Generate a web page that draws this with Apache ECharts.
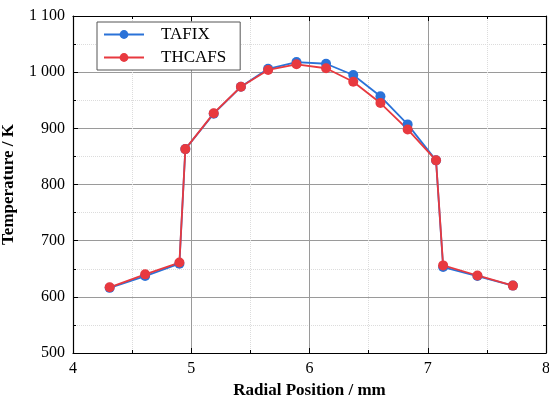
<!DOCTYPE html>
<html>
<head>
<meta charset="utf-8">
<script src="https://cdn.jsdelivr.net/npm/echarts@6/dist/echarts.min.js"></script>
<style>
  html, body { margin: 0; padding: 0; background: #fff; }
  #chart { width: 549px; height: 402px; }
</style>
</head>
<body>
<div id="chart"></div>
<script>
var positions = [4.31, 4.61, 4.90, 4.95, 5.19, 5.42, 5.65, 5.89, 6.14, 6.37, 6.60, 6.83, 7.07, 7.13, 7.42, 7.72];
var tafix  = [616, 637, 659, 863, 926, 974, 1006, 1018, 1015, 995, 957, 907, 843, 653, 637, 620];
var thcafs = [617, 640, 661, 863, 927, 974, 1004, 1014, 1007, 983, 945, 898, 843, 656, 638, 620];
var seriesNames = ['TAFIX', 'THCAFS'];

var blue = '#2a72d8';
var red = '#e8393f';
var font = 'Liberation Serif';

function pairs(xs, ys) {
  return xs.map(function(x, i) { return [x, ys[i]]; });
}

function fmtThousands(v) {
  return v >= 1000 ? Math.floor(v / 1000) + ' ' + String(v % 1000).padStart(3, '0') : String(v);
}

var chart = echarts.init(document.getElementById('chart'), null, { renderer: 'canvas' });

var frameAxis = {
  axisLine: { show: true, onZero: false, lineStyle: { color: '#000', width: 1.2 } },
  axisTick: { show: true, inside: true, length: 5, lineStyle: { color: '#000' } },
  minorTick: { show: true, splitNumber: 2, length: 3, lineStyle: { color: '#000' } }
};

chart.setOption({
  animation: false,
  backgroundColor: '#fff',
  grid: { left: 73, right: 3, top: 16, bottom: 49, outerBoundsMode: 'none', containLabel: false },
  legend: {
    data: seriesNames,
    orient: 'vertical',
    left: 97, top: 22,
    itemWidth: 40, itemHeight: 11, itemGap: 6,
    padding: [4, 14, 4, 6],
    borderColor: '#555', borderWidth: 1,
    backgroundColor: '#fff',
    textStyle: { fontFamily: font, fontSize: 17, color: '#000', padding: [0, 0, 0, 12] }
  },
  xAxis: [
    Object.assign({}, frameAxis, {
      type: 'value', min: 4, max: 8, interval: 1,
      name: 'Radial Position / mm', nameLocation: 'middle', nameGap: 27,
      nameTextStyle: { fontFamily: font, fontWeight: 'bold', fontSize: 17, color: '#000' },
      axisLabel: { fontFamily: font, fontSize: 16, color: '#000', margin: 8 },
      splitLine: { show: true, lineStyle: { color: '#9a9a9a', width: 1 } },
      minorSplitLine: { show: true, lineStyle: { color: '#dcdcdc', type: 'dotted' } }
    }),
    Object.assign({}, frameAxis, {
      type: 'value', min: 4, max: 8, interval: 1, position: 'top',
      axisLabel: { show: false }, splitLine: { show: false }
    })
  ],
  yAxis: [
    Object.assign({}, frameAxis, {
      type: 'value', min: 500, max: 1100, interval: 100,
      name: 'Temperature / K', nameLocation: 'middle', nameGap: 56,
      nameTextStyle: { fontFamily: font, fontWeight: 'bold', fontSize: 17, color: '#000' },
      axisLabel: { fontFamily: font, fontSize: 16, color: '#000', margin: 8, formatter: fmtThousands },
      splitLine: { show: true, lineStyle: { color: '#9a9a9a', width: 1 } },
      minorSplitLine: { show: true, lineStyle: { color: '#dcdcdc', type: 'dotted' } }
    }),
    Object.assign({}, frameAxis, {
      type: 'value', min: 500, max: 1100, interval: 100, position: 'right',
      axisLabel: { show: false }, splitLine: { show: false }
    })
  ],
  series: [
    {
      name: seriesNames[0], type: 'line', data: pairs(positions, tafix),
      symbol: 'circle', symbolSize: 10,
      itemStyle: { color: blue }, lineStyle: { color: blue, width: 1.8 }
    },
    {
      name: seriesNames[1], type: 'line', data: pairs(positions, thcafs),
      symbol: 'circle', symbolSize: 10,
      itemStyle: { color: red }, lineStyle: { color: red, width: 1.8 }
    }
  ]
});
</script>
</body>
</html>
